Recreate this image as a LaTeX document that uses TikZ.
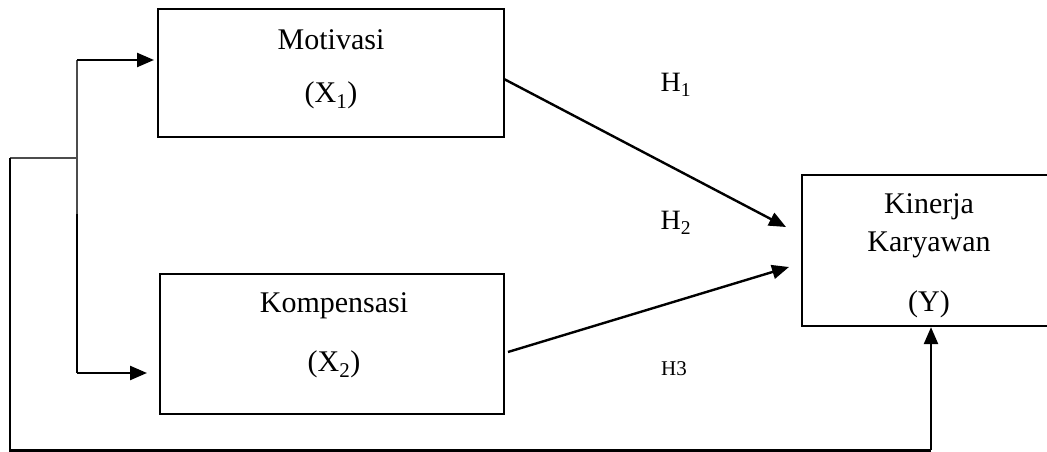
\documentclass[tikz,border=0pt]{standalone}
\usepackage{fontspec}
\setmainfont{Liberation Serif}
\usetikzlibrary{arrows.meta}
\begin{document}
\begin{tikzpicture}[x=1pt,y=1pt,
  box/.style={draw,line width=2.3pt,inner sep=0pt},
  lbl/.style={font=\fontsize{30}{34}\selectfont,anchor=base,inner sep=0pt},
  hlbl/.style={font=\fontsize{28}{32}\selectfont,anchor=base,inner sep=0pt},
  hsmall/.style={font=\fontsize{21}{24}\selectfont,anchor=base,inner sep=0pt},
  link/.style={line width=2.4pt},
  thin/.style={line width=1.4pt,draw=black!70},
  arr/.style={line width=2.4pt,-{Triangle[length=17pt,width=14pt]}}]
\useasboundingbox (0,0) rectangle (1047,452);

% variable boxes
\node[box,minimum width=346pt,minimum height=128pt] (mot) at (331,379) {};
\node[box,minimum width=344pt,minimum height=140pt] (komp) at (332,108) {};
\node[box,minimum width=254pt,minimum height=151pt] (kin) at (929,201.5) {};

% box texts
\node[lbl] (motT) at (331,402) {Motivasi};
\node[lbl] (motX) at (331,349) {(X\textsubscript{1})};
\node[lbl] (kompT) at (334,139) {Kompensasi};
\node[lbl] (kompX) at (334,80) {(X\textsubscript{2})};
\node[lbl] (kinT) at (929,238) {Kinerja};
\node[lbl] (kinK) at (929,200) {Karyawan};
\node[lbl] (kinY) at (929,140) {(Y)};

% hypothesis labels
\node[hlbl] (h1) at (676,360) {H\textsubscript{1}};
\node[hlbl] (h2) at (676,222) {H\textsubscript{2}};
\node[hsmall] (h3) at (674,76) {H3};

% direct paths to Y
\coordinate (m1) at (504,373);
\coordinate (m2) at (786,225);
\coordinate (k1) at (508,100);
\coordinate (k2) at (789,185);
\draw[arr] (m1) -- (m2);
\draw[arr] (k1) -- (k2);

% branching connector on the left
\coordinate (bt) at (77,392);
\coordinate (bm) at (77,294);
\coordinate (bj) at (77,238);
\coordinate (bb) at (77,79);
\coordinate (tipM) at (154,392);
\coordinate (tipK) at (147,79);
\draw[thin] (bt) -- (bj);
\draw[link] (bj) -- (bb);
\draw[arr] (bt) -- (tipM);
\draw[arr] (bb) -- (tipK);

% outer loop to Y
\coordinate (o1) at (10,294);
\coordinate (o2) at (10,1.5);
\coordinate (o3) at (931,1.5);
\draw[thin] (bm) -- (o1);
\draw[link] (o1) -- (o2) -- (o3);
\draw[arr] (o3) -- (o3 |- kin.south);
\end{tikzpicture}
\end{document}
